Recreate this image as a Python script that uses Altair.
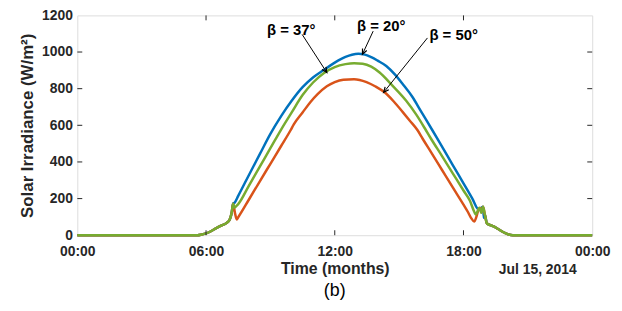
import altair as alt
import pandas as pd

FONT = "Liberation Sans"
AXC = "#262626"

# ---- data (hours of the day, irradiance W/m^2) ----
dawn_hours = [0, 5.6, 5.8, 6.0, 6.25, 6.5, 6.7, 6.95, 7.1, 7.2, 7.26]
dawn_vals = [0, 0, 4, 10, 23, 40, 52, 66, 85, 125, 172]

blue_hours = [7.32, 7.5, 8.0, 8.5, 9.0, 9.5, 10.0, 10.5, 11.0, 11.5, 12.0, 12.5, 12.8, 13.1,
              13.4, 13.7, 14.0, 14.4, 14.8, 15.2, 15.63, 16.0, 16.55, 17.0, 17.5, 18.0, 18.4,
              18.71, 18.95]
blue_vals = [176, 215, 329, 441, 553, 650, 735, 808, 862, 903, 942, 973, 985, 990,
             986, 972, 953, 924, 878, 820, 753, 680, 573, 483, 383, 283, 203, 141, 95]

green_hours = [7.33, 7.4, 7.5, 8.0, 8.5, 9.0, 9.5, 10.0, 10.5, 11.0, 11.5, 12.0, 12.5, 12.9,
               13.3, 13.7, 14.09, 14.7, 15.32, 15.8, 16.25, 16.48, 17.0, 17.5, 18.0, 18.3,
               18.5, 18.57, 18.75, 18.83]
green_vals = [150, 158, 170, 271, 373, 475, 577, 672, 765, 835, 886, 918, 934, 939,
              936, 920, 888, 815, 735, 658, 573, 528, 432, 338, 244, 188,
              128, 113, 150, 122]

orange_hours = [7.35, 7.43, 7.5, 8.0, 8.5, 9.0, 9.5, 9.94, 10.09, 10.5, 10.86, 11.2, 11.63,
                12.0, 12.4, 12.9, 13.48, 13.9, 14.32, 14.75, 15.17, 15.5, 15.86, 16.09,
                16.5, 17.0, 17.5, 18.0, 18.2, 18.35, 18.5, 18.6, 18.7, 18.78, 18.83]
orange_vals = [120, 86, 98, 195, 293, 390, 487, 573, 605, 670, 726, 770, 813,
               836, 849, 852, 836, 812, 780, 730, 672, 625, 573, 528,
               451, 356, 261, 167, 128, 95, 75, 100, 140, 148, 125]

dusk_hours = [18.91, 19.0, 19.09, 19.25, 19.4, 19.6, 19.78, 19.95, 20.1, 20.3, 24]
dusk_vals = [155, 110, 65, 55, 48, 35, 22, 11, 4, 0, 0]

series_names = ["β = 20°", "β = 37°", "β = 50°"]
series_colors = ["#0072BD", "#77AC30", "#D95319"]

# annotations
ann_labels = ["β = 37°", "β = 20°", "β = 50°"]
ann_text_h = [9.97, 14.17, 17.54]
ann_text_v = [1119, 1141, 1092]
arrow_h0 = [10.48, 13.79, 16.32]
arrow_v0 = [1096, 1114, 1077]
arrow_h1 = [11.63, 13.29, 14.28]
arrow_v1 = [888, 988, 780]
arrow_angle = [147, 205, 219]

x_ticks = [0, 6, 12, 18, 24]
y_ticks = [0, 200, 400, 600, 800, 1000, 1200]

# ---- build tables ----
rows = []
for name, th, tv in [
    (series_names[0], blue_hours, blue_vals),
    (series_names[1], green_hours, green_vals),
    (series_names[2], orange_hours, orange_vals),
]:
    hrs = dawn_hours + th + dusk_hours
    vals = dawn_vals + tv + dusk_vals
    rows += [{"series": name, "t": h, "v": v} for h, v in zip(hrs, vals)]
df = pd.DataFrame(rows)

ann_df = pd.DataFrame({"label": ann_labels, "th": ann_text_h, "tv": ann_text_v})
arr_df = pd.DataFrame({"h0": arrow_h0, "v0": arrow_v0, "h1": arrow_h1, "v1": arrow_v1,
                       "ang": arrow_angle})
xt_df = pd.DataFrame({"xt": x_ticks[1:-1]})
yt_df = pd.DataFrame({"yt": y_ticks[1:-1]})
date_df = pd.DataFrame({"label": ["Jul 15, 2014"]})

W, H = 520, 222

x_axis = alt.Axis(
    values=x_ticks,
    labelExpr="(datum.value >= 24 ? '00' : datum.value < 10 ? '0' + datum.value : '' + datum.value) + ':00'",
    title="Time (months)", grid=False, domain=False, ticks=False,
    labelFont=FONT, labelFontSize=14, labelFontWeight="bold", labelColor=AXC,
    labelPadding=9, labelFlush=False,
    titleFont=FONT, titleFontSize=16, titleFontWeight="bold", titleColor=AXC,
    titlePadding=3,
)
y_axis = alt.Axis(
    values=y_ticks, format="d", title="Solar Irradiance (W/m²)", grid=False, domain=False,
    ticks=False,
    labelFont=FONT, labelFontSize=14, labelFontWeight="bold", labelColor=AXC,
    labelPadding=5,
    titleFont=FONT, titleFontSize=17, titleFontWeight="bold", titleColor=AXC,
    titlePadding=5,
)
xs = alt.Scale(domain=[0, 24], nice=False, zero=False)
ys = alt.Scale(domain=[0, 1200], nice=False)


def X(f):
    return alt.X(f"{f}:Q", scale=xs, axis=x_axis)


def Y(f):
    return alt.Y(f"{f}:Q", scale=ys, axis=y_axis)


layers = []
for name, col in [(series_names[0], series_colors[0]),
                  (series_names[2], series_colors[2]),
                  (series_names[1], series_colors[1])]:
    layers.append(
        alt.Chart(df).transform_filter(alt.datum.series == name)
        .mark_line(color=col, strokeWidth=2.5, strokeJoin="round", interpolate="monotone")
        .encode(x=X("t"), y=Y("v"))
    )

# inward ticks (box style)
layers.append(alt.Chart(xt_df).mark_rule(color=AXC, strokeWidth=1).encode(
    x=X("xt"), y=alt.value(H), y2=alt.value(H - 5)))
layers.append(alt.Chart(xt_df).mark_rule(color=AXC, strokeWidth=1).encode(
    x=X("xt"), y=alt.value(0), y2=alt.value(5)))
layers.append(alt.Chart(yt_df).mark_rule(color=AXC, strokeWidth=1).encode(
    y=Y("yt"), x=alt.value(0), x2=alt.value(5)))
layers.append(alt.Chart(yt_df).mark_rule(color=AXC, strokeWidth=1).encode(
    y=Y("yt"), x=alt.value(W), x2=alt.value(W - 5)))

# annotations
layers.append(alt.Chart(arr_df).mark_rule(color="black", strokeWidth=1).encode(
    x=X("h0"), y=Y("v0"), x2="h1:Q", y2="v1:Q"))
layers.append(alt.Chart(arr_df).mark_point(
    shape="M-0.45,1L0,0L0.45,1", filled=False, color="black", strokeWidth=1.2,
    size=110, opacity=1).encode(
    x=X("h1"), y=Y("v1"), angle=alt.Angle("ang:Q", scale=None)))
layers.append(alt.Chart(ann_df).mark_text(
    font=FONT, fontSize=15, fontWeight="bold", color="black", baseline="middle",
    align="center").encode(x=X("th"), y=Y("tv"), text="label:N"))
layers.append(alt.Chart(date_df).mark_text(
    font=FONT, fontSize=14, fontWeight="bold", color=AXC, baseline="middle",
    align="center").encode(x=alt.value(465), y=alt.value(257), text="label:N"))

chart = alt.layer(*layers).properties(
    width=W, height=H,
    padding={"left": 70, "top": 6, "right": 22, "bottom": 68},
    autosize=alt.AutoSizeParams(type="none"),
    title=alt.TitleParams("(b)", orient="bottom", font=FONT, fontSize=18,
                          fontWeight="normal", color="black", offset=5),
).configure_view(stroke=AXC, strokeWidth=1).configure(background="white")

chart.save("out.html", embed_options={"renderer": "svg", "actions": False})
